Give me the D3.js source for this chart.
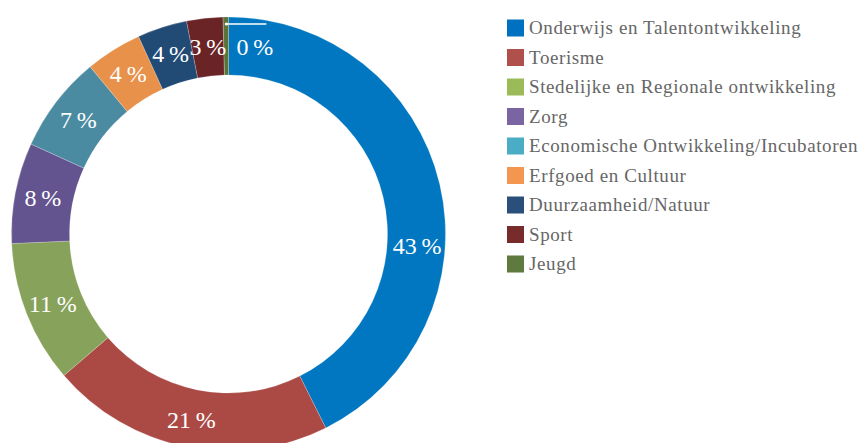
<!DOCTYPE html>
<html>
<head>
<meta charset="utf-8">
<script src="https://cdn.jsdelivr.net/npm/d3@7"></script>
<style>
  html, body { margin: 0; padding: 0; background: #fff; }
  svg { display: block; }
  svg text { font-family: "Liberation Serif", "DejaVu Serif", "Times New Roman", serif; }
</style>
</head>
<body>
<div id="chart"></div>
<script>
const categories = [
    "Onderwijs en Talentontwikkeling",
    "Toerisme",
    "Stedelijke en Regionale ontwikkeling",
    "Zorg",
    "Economische Ontwikkeling/Incubatoren",
    "Erfgoed en Cultuur",
    "Duurzaamheid/Natuur",
    "Sport",
    "Jeugd"
];
const shares = [42.6, 21.1, 10.6, 7.5, 7.2, 4.2, 3.7, 2.7, 0.4];

const sliceColors = ["#0077c0", "#ab4a45", "#87a25a", "#63548f", "#4a8ba2", "#e8914a", "#214a74", "#6a2426", "#5a7338"];
const legendColors = ["#0070c0", "#b0504c", "#9bbb59", "#7a64a2", "#4bacc6", "#f39650", "#2a4f7a", "#772b2b", "#5f7a3e"];

const width = 866, height = 443;
const cx = 228.5, cy = 234;
const outerR = 217, innerR = 159;

const svg = d3.select("#chart").append("svg")
    .attr("width", width)
    .attr("height", height);

const data = categories.map((c, i) => ({ name: c, value: shares[i], i: i }));

const pie = d3.pie().sort(null).value(d => d.value);
const arcs = pie(data);
const arc = d3.arc().innerRadius(innerR).outerRadius(outerR);

const g = svg.append("g").attr("transform", `translate(${cx},${cy})`);

g.selectAll("path.slice")
    .data(arcs)
    .enter()
    .append("path")
    .attr("class", "slice")
    .attr("d", arc)
    .attr("fill", d => sliceColors[d.data.i])
    .attr("stroke", "#ffffff")
    .attr("stroke-opacity", 0.35)
    .attr("stroke-width", 0.6);

// label angle: slice middle, except the big first one which sits lower in the original
function labelAngle(d) {
    if (d.index === 0) return d.startAngle + (d.endAngle - d.startAngle) * 0.61;
    if (d.data.value < 1) return 0.14;
    return (d.startAngle + d.endAngle) / 2;
}
const labelR = 189;

g.selectAll("text.pct")
    .data(arcs)
    .enter()
    .append("text")
    .attr("class", "pct")
    .attr("x", d => labelR * Math.sin(labelAngle(d)))
    .attr("y", d => -labelR * Math.cos(labelAngle(d)))
    .attr("dy", "0.35em")
    .attr("text-anchor", "middle")
    .style("font-size", "24px")
    .attr("fill", "#ffffff")
    .text(d => Math.round(d.data.value) + "\u2009%");

// leader line for the tiny last slice
const tiny = arcs[arcs.length - 1];
const tinyMid = (tiny.startAngle + tiny.endAngle) / 2;
const ly = -outerR + 7;
const lx0 = Math.sin(tinyMid) * (outerR - 7) + 0.5;
g.append("line")
    .attr("x1", lx0)
    .attr("y1", ly)
    .attr("x2", lx0 + 40)
    .attr("y2", ly)
    .attr("stroke", "#ffffff")
    .attr("stroke-width", 1.5);
g.append("circle")
    .attr("cx", lx0)
    .attr("cy", ly)
    .attr("r", 1.6)
    .attr("fill", "#ffffff");

// legend
const legend = svg.append("g").attr("transform", "translate(507,0)");
const rowY = d3.scaleLinear().domain([0, categories.length - 1]).range([28, 264]);

const items = legend.selectAll("g.item")
    .data(categories)
    .enter()
    .append("g")
    .attr("class", "item")
    .attr("transform", (d, i) => `translate(0,${rowY(i)})`);

items.append("rect")
    .attr("x", 0)
    .attr("y", -8.5)
    .attr("width", 17)
    .attr("height", 17)
    .attr("fill", (d, i) => legendColors[i]);

items.append("text")
    .attr("x", 22)
    .attr("y", 0)
    .attr("dy", "0.33em")
    .style("font-size", "19px")
    .style("letter-spacing", "0.6px")
    .attr("fill", "#666666")
    .text(d => d);
</script>
</body>
</html>
